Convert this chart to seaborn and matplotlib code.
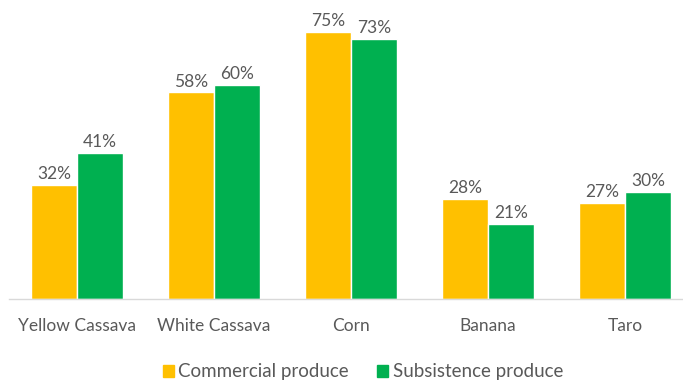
import matplotlib
matplotlib.use("Agg")
import matplotlib.pyplot as plt
import seaborn as sns
import pandas as pd

crops = ["Yellow Cassava", "White Cassava", "Corn", "Banana", "Taro"]
commercial = [32, 58, 75, 28, 27]
subsistence = [41, 60, 73, 21, 30]
series_names = ["Commercial produce", "Subsistence produce"]
colors = ["#FFC000", "#00B050"]

df = pd.DataFrame({
    "crop": crops * 2,
    "share": commercial + subsistence,
    "series": [series_names[0]] * len(crops) + [series_names[1]] * len(crops),
})

sns.set_style("white")
plt.rcParams["font.family"] = ["Lato", "DejaVu Sans"]

fs = 12.5
fig = plt.figure(figsize=(6.83, 3.81), dpi=100)
ax = fig.add_axes([0.0125, 0.2152, 1.003, 0.748])

sns.barplot(data=df, x="crop", y="share", hue="series", order=crops,
            hue_order=series_names, palette=colors, width=0.67,
            saturation=1, gap=0, ax=ax, legend=False)

for container in ax.containers:
    ax.bar_label(container, labels=[f"{v:.0f}%" for v in container.datavalues],
                 padding=2, fontsize=fs, color="#595959")

ax.set_ylim(0, 80)
ax.set_xlim(-0.5, 4.5)
ax.set_xlabel("")
ax.set_ylabel("")
ax.set_yticks([])
ax.tick_params(axis="x", length=0, pad=14, labelsize=fs, labelcolor="#595959")
for side in ["top", "right", "left"]:
    ax.spines[side].set_visible(False)
ax.spines["bottom"].set_color("#D9D9D9")
ax.spines["bottom"].set_linewidth(1)

handles = [plt.Rectangle((0, 0), 1, 1, color=c) for c in colors]
fig.legend(handles, series_names, loc="center", bbox_to_anchor=(363 / 683, 1 - 372 / 381),
           ncol=2, frameon=False, fontsize=13.5, labelcolor="#595959",
           handlelength=0.6, handleheight=0.6, handletextpad=0.25, columnspacing=1.5)

fig.savefig("out.png", dpi=100)
